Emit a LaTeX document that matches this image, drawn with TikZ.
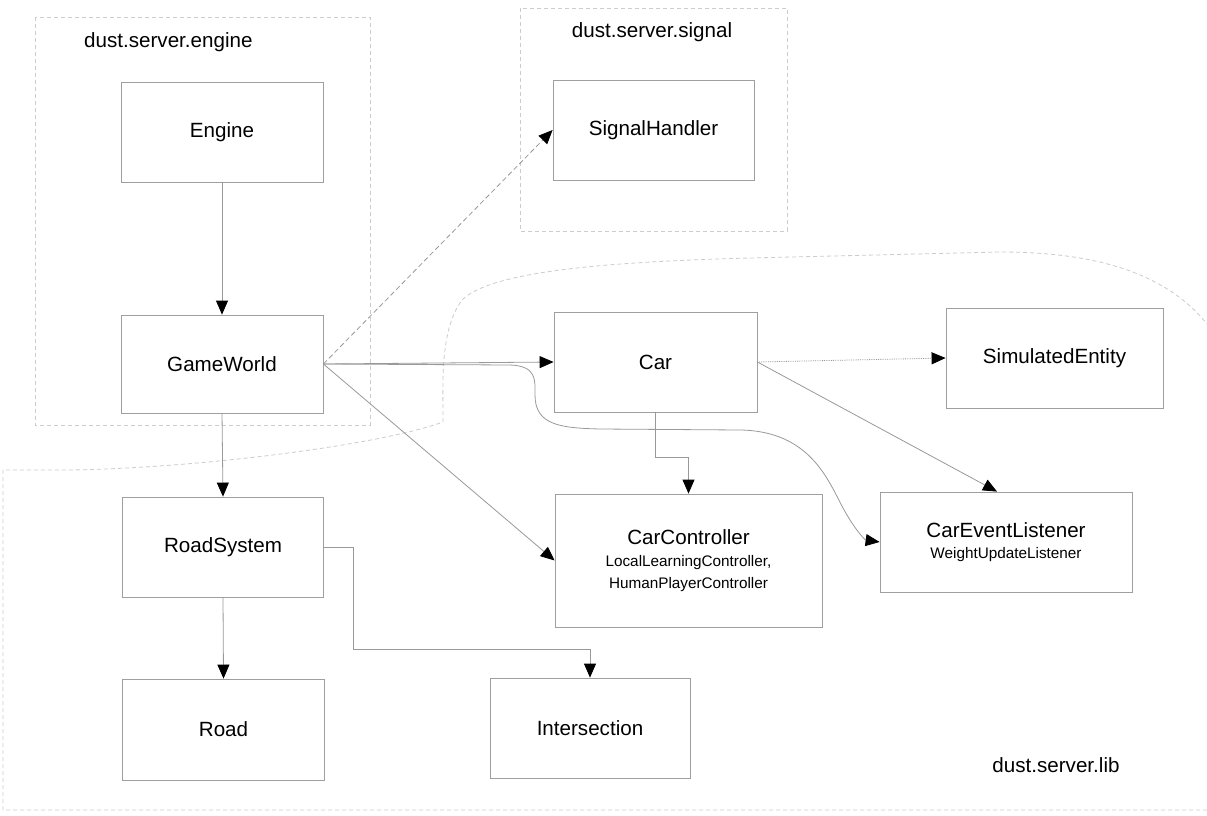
\documentclass[tikz,border=0pt]{standalone}
\usepackage{fontspec}
\setmainfont{Liberation Sans}
\usetikzlibrary{arrows.meta,calc}
\begin{document}
\begin{tikzpicture}[x=1pt,y=-1pt,
  cls/.style={draw=gray!75,line width=0.8pt,rectangle,align=center,inner sep=0pt,
    font=\fontsize{20.6}{23}\selectfont},
  pkg/.style={draw=gray!40,line width=0.8pt,dash pattern=on 4pt off 3pt},
  pkglabel/.style={font=\fontsize{20.6}{23}\selectfont,inner sep=0pt},
  conn/.style={draw=gray!80,line width=0.8pt,-{Triangle[length=14pt,width=12pt,black]}},
  dconn/.style={conn,dash pattern=on 5pt off 3pt},
  pconn/.style={conn,densely dotted}
]
\useasboundingbox (0,0) rectangle (1207,816);
\fill[white] (0,0) rectangle (1207,816);

% packages
\draw[pkg] (35,17) rectangle (370,425);
\draw[pkg] (520,8) rectangle (787,231);
\begin{scope}
\clip (0,0) rectangle (1207,816);
\draw[pkg] (1207,810) -- (3,810) -- (3,470) -- (70,470)
  .. controls (200,468) and (380,445) .. (443,422)
  .. controls (443,380) and (440,330) .. (462,300)
  .. controls (490,272) and (600,262) .. (750,258)
  -- (1000,252)
  .. controls (1100,252) and (1175,275) .. (1215,335);
\end{scope}
\node[pkglabel,anchor=west] (lengine) at (84,42) {dust.server.engine};
\node[pkglabel] (lsignal) at (652,32) {dust.server.signal};
\node[pkglabel] (llib) at (1056,765) {dust.server.lib};

% classes
\node[cls,minimum width=202pt,minimum height=100pt] (Engine) at (222,132) {Engine};
\node[cls,minimum width=202pt,minimum height=98pt] (GameWorld) at (222,364) {GameWorld};
\node[cls,minimum width=201pt,minimum height=100pt] (SignalHandler) at (653.5,130) {SignalHandler};
\node[cls,minimum width=203pt,minimum height=100pt] (Car) at (655.5,362) {Car};
\node[cls,minimum width=217pt,minimum height=100pt] (SimulatedEntity) at (1054.5,358) {SimulatedEntity};
\node[cls,minimum width=267pt,minimum height=133pt] (CarController) at (688.5,560.5)
  {CarController\\[-1pt]{\fontsize{15.3}{22.5}\selectfont LocalLearningController,}\\[-1pt]{\fontsize{15.3}{22.5}\selectfont HumanPlayerController}};
\node[cls,minimum width=252pt,minimum height=100pt] (CarEventListener) at (1006,542)
  {CarEventListener\\[-2pt]{\fontsize{15.3}{20}\selectfont WeightUpdateListener}};
\node[cls,minimum width=201pt,minimum height=100pt] (RoadSystem) at (223,547) {RoadSystem};
\node[cls,minimum width=202pt,minimum height=101pt] (Road) at (223.5,729.5) {Road};
\node[cls,minimum width=200pt,minimum height=100pt] (Intersection) at (590,728) {Intersection};

\coordinate (ri1) at (353,649);
\coordinate (cc1) at (688.5,457);

% connectors
\draw[conn] (Engine.south) -- (GameWorld.north);
\draw[conn] (GameWorld.south) -- (RoadSystem.north);
\draw[conn] (RoadSystem.south) -- (Road.north);
\draw[conn] (RoadSystem.east) -| (ri1) -| (Intersection.north);
\draw[conn] (Car.south) |- (cc1) -- (CarController.north);
\draw[conn] (GameWorld.east) -- (Car.west);
\draw[conn] (GameWorld.east) -- (CarController.west);
\draw[dconn] (GameWorld.east) -- (SignalHandler.west);
\draw[conn] (GameWorld.east) -- (510,365)
  .. controls (537,366) and (535,380) .. (535,395)
  .. controls (535,425) and (560,428) .. (600,429)
  -- (740,430)
  .. controls (810,431) and (828,480) .. (843,508)
  .. controls (855,530) and (865,540) .. (CarEventListener.west);
\draw[pconn] (Car.east) -- (SimulatedEntity.west);
\draw[conn] (Car.east) -- ([xshift=-9pt]CarEventListener.north);
\end{tikzpicture}
\end{document}
